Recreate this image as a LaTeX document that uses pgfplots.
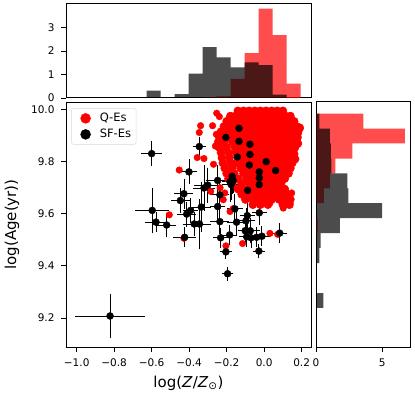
\documentclass[border=0pt]{standalone}
\usepackage{fontspec}
\setmainfont{DejaVu Sans}
\usepackage{pgfplots}
\pgfplotsset{compat=1.18}
\begin{document}
\begin{tikzpicture}
\pgfplotsset{
  scale only axis,
  every axis/.append style={
    axis line style={line width=1pt},
    tick align=outside,
    major tick length=5pt,
    every tick/.style={black, line width=0.9pt},
    tick label style={font=\fontsize{10.5}{12}\selectfont},
    label style={font=\fontsize{15}{17}\selectfont},
    xticklabel shift=3pt, yticklabel shift=3pt,
  },
}
\path[use as bounding box] (0,0) rectangle (415pt,399pt);

% main scatter
\begin{axis}[
  at={(66pt,52pt)}, anchor=south west,
  width=245pt, height=245pt,
  xmin=-1.057, xmax=0.25, ymin=9.089, ymax=10.029,
  xtick pos=bottom, ytick pos=left,
  xtick={-1,-0.8,-0.6,-0.4,-0.2,0,0.2},
  xticklabels={−1.0,−0.8,−0.6,−0.4,−0.2,0.0,0.2},
  ytick={9.2,9.4,9.6,9.8,10.0},
  yticklabels={9.2,9.4,9.6,9.8,10.0},
  xlabel={log(\textit{Z}/\textit{Z}\textsubscript{⊙})},
  ylabel={log(Age(yr))},
  ylabel shift=5pt, xlabel shift=3pt,
  legend cell align=left,
  legend image code/.code={\draw[#1] plot coordinates {(0.38cm,0cm)}; \path (0cm,0cm) (0.8cm,0cm);},
  legend style={at={(0.022,0.975)}, anchor=north west, draw=black!15,
    rounded corners=2pt, font=\fontsize{11.5}{13}\selectfont,
    row sep=2pt, inner sep=3pt},
]
% Q-Es, dense core
\addplot[only marks, mark=*, mark size=4pt, draw=none, fill=red, mark options={draw=red, fill=red, line width=0.6pt}, forget plot] coordinates {
(-0.14,9.995)(-0.11,9.995)(-0.08,9.995)(-0.05,9.995)(-0.02,9.995)(0.01,9.995)(0.04,9.995)(0.07,9.995)(0.10,9.995)
(-0.18,9.975)(-0.155,9.975)(-0.125,9.975)(-0.095,9.975)(-0.065,9.975)(-0.035,9.975)(-0.005,9.975)(0.025,9.975)(0.055,9.975)(0.085,9.975)(0.115,9.975)(0.14,9.975)
(-0.20,9.955)(-0.17,9.955)(-0.14,9.955)(-0.11,9.955)(-0.08,9.955)(-0.05,9.955)(-0.02,9.955)(0.01,9.955)(0.04,9.955)(0.07,9.955)(0.10,9.955)(0.13,9.955)(0.16,9.955)
(-0.215,9.935)(-0.185,9.935)(-0.155,9.935)(-0.125,9.935)(-0.095,9.935)(-0.065,9.935)(-0.035,9.935)(-0.005,9.935)(0.025,9.935)(0.055,9.935)(0.085,9.935)(0.115,9.935)(0.145,9.935)(0.175,9.935)(0.19,9.93)
(-0.23,9.915)(-0.20,9.915)(-0.17,9.915)(-0.14,9.915)(-0.11,9.915)(-0.08,9.915)(-0.05,9.915)(-0.02,9.915)(0.01,9.915)(0.04,9.915)(0.07,9.915)(0.10,9.915)(0.13,9.915)(0.16,9.915)(0.18,9.91)
(-0.24,9.895)(-0.21,9.895)(-0.185,9.895)(-0.155,9.895)(-0.125,9.895)(-0.095,9.895)(-0.065,9.895)(-0.035,9.895)(-0.005,9.895)(0.025,9.895)(0.055,9.895)(0.085,9.895)(0.115,9.895)(0.145,9.895)(0.175,9.895)
(-0.245,9.875)(-0.215,9.875)(-0.17,9.875)(-0.14,9.875)(-0.11,9.875)(-0.08,9.875)(-0.05,9.875)(-0.02,9.875)(0.01,9.875)(0.04,9.875)(0.07,9.875)(0.10,9.875)(0.13,9.875)(0.16,9.875)(0.18,9.87)
(-0.24,9.855)(-0.20,9.855)(-0.155,9.855)(-0.125,9.855)(-0.095,9.855)(-0.065,9.855)(-0.035,9.855)(-0.005,9.855)(0.025,9.855)(0.055,9.855)(0.085,9.855)(0.115,9.855)(0.145,9.855)(0.165,9.855)
(-0.23,9.835)(-0.19,9.835)(-0.15,9.835)(-0.11,9.835)(-0.08,9.835)(-0.05,9.835)(-0.02,9.835)(0.01,9.835)(0.04,9.835)(0.07,9.835)(0.10,9.835)(0.13,9.835)(0.16,9.83)
(-0.225,9.815)(-0.185,9.815)(-0.125,9.815)(-0.095,9.815)(-0.065,9.815)(-0.035,9.815)(-0.005,9.815)(0.025,9.815)(0.055,9.815)(0.085,9.815)(0.115,9.815)(0.145,9.815)(0.165,9.81)
(-0.22,9.795)(-0.18,9.795)(-0.15,9.795)(-0.11,9.795)(-0.08,9.795)(-0.05,9.795)(-0.02,9.795)(0.01,9.795)(0.04,9.795)(0.07,9.795)(0.10,9.795)(0.13,9.795)(0.15,9.795)
(-0.21,9.775)(-0.17,9.775)(-0.125,9.775)(-0.095,9.775)(-0.065,9.775)(-0.035,9.775)(-0.005,9.775)(0.025,9.775)(0.055,9.775)(0.085,9.775)(0.115,9.775)(0.14,9.775)
(-0.20,9.755)(-0.16,9.755)(-0.11,9.755)(-0.08,9.755)(-0.05,9.755)(-0.02,9.755)(0.01,9.755)(0.04,9.755)(0.07,9.755)(0.10,9.755)(0.13,9.755)
(-0.19,9.735)(-0.14,9.735)(-0.095,9.735)(-0.065,9.735)(-0.035,9.735)(-0.005,9.735)(0.025,9.735)(0.055,9.735)(0.085,9.735)(0.11,9.735)
(-0.17,9.715)(-0.12,9.715)(-0.08,9.715)(-0.05,9.715)(-0.02,9.715)(0.01,9.715)(0.04,9.715)(0.07,9.715)(0.09,9.715)
(-0.14,9.695)(-0.11,9.695)(-0.065,9.695)(-0.035,9.695)(-0.005,9.695)(0.025,9.695)(0.055,9.695)(0.085,9.695)(0.11,9.695)
(-0.12,9.675)(-0.09,9.675)(-0.05,9.675)(-0.02,9.675)(0.01,9.675)(0.04,9.675)(0.07,9.675)(0.10,9.675)(0.125,9.675)
(-0.10,9.655)(-0.06,9.655)(-0.03,9.655)(0.00,9.655)(0.04,9.655)(0.08,9.655)(0.115,9.655)(0.14,9.655)
(-0.06,9.635)(-0.02,9.635)(0.02,9.635)(0.10,9.635)(0.135,9.635)
};
% Q-Es, scattered
\addplot[only marks, mark=*, mark size=3.3pt, color=red, forget plot] coordinates {
(-0.253,9.986)(-0.239,9.973)(-0.339,9.938)(-0.275,9.938)(-0.346,9.912)(-0.357,9.816)(-0.321,9.812)
(-0.453,9.768)(-0.506,9.596)(-0.428,9.506)(-0.204,9.477)(-0.115,9.486)(0.031,9.525)(0.072,9.521)
(-0.182,9.609)(-0.165,9.62)(-0.285,9.686)(-0.218,9.654)(0.084,9.673)(0.138,9.641)(0.102,9.622)
(0.147,9.68)(0.031,9.641)(-0.022,9.635)(0.191,9.925)(0.182,9.893)(0.12,9.751)(-0.27,9.79)
(-0.26,9.86)(-0.255,9.905)(-0.235,9.70)(-0.21,9.68)
};
% SF-Es
\addplot[only marks, mark=*, mark size=3.5pt, color=black, forget plot,
  error bars/.cd, x dir=both, x explicit, y dir=both, y explicit,
  error bar style={line width=0.8pt, black},
  error mark options={black, mark size=2pt, line width=0.8pt}]
  table[x=x, y=y, x error=ex, y error=ey, row sep=\\] {
x y ex ey \\
-0.600 9.831 0.044 0.040 \\
-0.346 9.858 0.025 0.030 \\
-0.134 9.928 0.055 0.020 \\
-0.204 9.893 0.050 0.030 \\
-0.134 9.878 0.030 0.030 \\
-0.076 9.867 0.060 0.030 \\
-0.076 9.828 0.040 0.050 \\
-0.143 9.818 0.040 0.040 \\
-0.079 9.787 0.030 0.070 \\
0.011 9.800 0.020 0.040 \\
0.061 9.766 0.020 0.020 \\
-0.026 9.761 0.040 0.030 \\
-0.026 9.738 0.050 0.040 \\
-0.026 9.712 0.040 0.040 \\
-0.088 9.690 0.040 0.060 \\
-0.170 9.744 0.030 0.060 \\
-0.182 9.723 0.030 0.070 \\
-0.165 9.727 0.030 0.040 \\
-0.176 9.712 0.040 0.050 \\
-0.248 9.728 0.050 0.050 \\
-0.301 9.710 0.060 0.060 \\
-0.321 9.699 0.050 0.080 \\
-0.401 9.761 0.030 0.040 \\
-0.428 9.677 0.040 0.050 \\
-0.447 9.651 0.040 0.040 \\
-0.236 9.673 0.040 0.040 \\
-0.248 9.628 0.030 0.040 \\
-0.335 9.626 0.040 0.090 \\
-0.392 9.613 0.030 0.040 \\
-0.413 9.599 0.040 0.040 \\
-0.597 9.613 0.080 0.080 \\
-0.577 9.568 0.050 0.030 \\
-0.520 9.557 0.040 0.040 \\
-0.424 9.510 0.050 0.030 \\
-0.373 9.561 0.050 0.040 \\
-0.345 9.561 0.050 0.090 \\
-0.236 9.570 0.040 0.040 \\
-0.232 9.508 0.030 0.030 \\
-0.184 9.519 0.030 0.030 \\
-0.147 9.568 0.040 0.040 \\
-0.097 9.573 0.040 0.040 \\
-0.090 9.593 0.030 0.040 \\
-0.026 9.604 0.030 0.040 \\
-0.101 9.535 0.030 0.040 \\
-0.074 9.535 0.040 0.040 \\
-0.093 9.512 0.030 0.030 \\
-0.070 9.508 0.030 0.030 \\
-0.040 9.510 0.030 0.030 \\
-0.012 9.514 0.030 0.030 \\
0.083 9.526 0.030 0.030 \\
-0.204 9.454 0.020 0.020 \\
-0.028 9.457 0.020 0.020 \\
-0.195 9.370 0.020 0.020 \\
-0.822 9.208 0.175 0.078 \\
-0.156 9.619 0.030 0.050 \\
};
\addlegendimage{only marks, mark=*, mark size=5pt, red}
\addlegendentry{Q-Es}
\addlegendimage{only marks, mark=*, mark size=5pt, black}
\addlegendentry{SF-Es}
\end{axis}

% top histogram
\begin{axis}[
  at={(66pt,301pt)}, anchor=south west,
  width=245pt, height=94pt,
  xmin=-1.057, xmax=0.25, ymin=0, ymax=4.0,
  xtick=\empty, ytick pos=left,
  ytick={0,1,2,3}, yticklabels={0,1,2,3},
]
\addplot[ybar interval, fill=red, fill opacity=0.7, draw=none] coordinates {
(-0.328,0.03)(-0.253,0.07)(-0.179,0.81)(-0.104,1.91)(-0.029,3.80)(0.045,2.68)(0.120,0.61)(0.195,0)
};
\addplot[ybar interval, fill=black, fill opacity=0.7, draw=none] coordinates {
(-0.627,0.31)(-0.552,0)(-0.477,0.17)(-0.403,1.04)(-0.328,2.16)(-0.253,1.73)(-0.179,1.30)(-0.104,1.52)(-0.029,1.40)(0.045,0.14)(0.120,0)
};
\end{axis}

% right histogram
\begin{axis}[
  at={(316pt,52pt)}, anchor=south west,
  width=94pt, height=245pt,
  xmin=0, xmax=7.1, ymin=9.089, ymax=10.029,
  ytick=\empty, xtick pos=bottom,
  xtick={0,5}, xticklabels={0,5},
]
\addplot[xbar interval, fill=red, fill opacity=0.7, draw=none] coordinates {
(0.12,9.526)(0,9.583)(0.60,9.641)(1.04,9.698)(1.47,9.755)(2.74,9.812)(6.72,9.870)(3.58,9.927)(0,9.984)
};
\addplot[xbar interval, fill=black, fill opacity=0.7, draw=none] coordinates {
(0.55,9.239)(0,9.296)(0,9.354)(0.25,9.411)(0.35,9.469)(1.81,9.526)(5.00,9.583)(2.44,9.641)(2.36,9.698)(1.17,9.755)(1.12,9.812)(1.04,9.870)(0.25,9.927)(0,9.984)
};
\end{axis}
\end{tikzpicture}
\end{document}
